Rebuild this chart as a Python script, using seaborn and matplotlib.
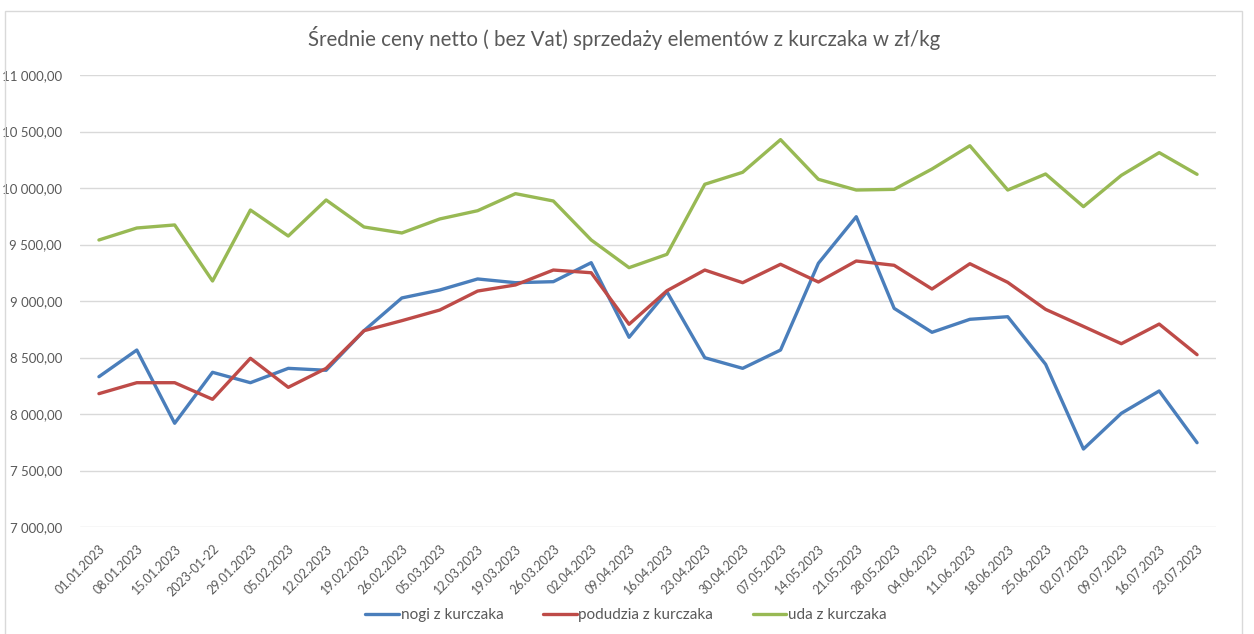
import matplotlib
matplotlib.use("Agg")
import matplotlib.pyplot as plt
import matplotlib.ticker as mticker
from matplotlib.patches import Rectangle
import seaborn as sns
import pandas as pd

dates = ["01.01.2023", "08.01.2023", "15.01.2023", "2023-01-22", "29.01.2023", "05.02.2023",
         "12.02.2023", "19.02.2023", "26.02.2023", "05.03.2023", "12.03.2023", "19.03.2023",
         "26.03.2023", "02.04.2023", "09.04.2023", "16.04.2023", "23.04.2023", "30.04.2023",
         "07.05.2023", "14.05.2023", "21.05.2023", "28.05.2023", "04.06.2023", "11.06.2023",
         "18.06.2023", "25.06.2023", "02.07.2023", "09.07.2023", "16.07.2023", "23.07.2023"]

nogi = [8330, 8566, 7918, 8369, 8277, 8404, 8387, 8737, 9027, 9097, 9195, 9162, 9171, 9339, 8679,
        9082, 8498, 8404, 8566, 9334, 9746, 8935, 8723, 8838, 8861, 8440, 7690, 8006, 8204, 7746]
podudzia = [8180, 8277, 8277, 8130, 8493, 8236, 8404, 8737, 8826, 8920, 9088, 9142, 9274, 9250, 8794,
            9091, 9274, 9162, 9325, 9168, 9354, 9316, 9106, 9330, 9165, 8926, 8775, 8622, 8796, 8525]
uda = [9540, 9646, 9673, 9177, 9805, 9575, 9894, 9655, 9602, 9726, 9799, 9950, 9885, 9540, 9295,
       9413, 10033, 10139, 10428, 10077, 9982, 9988, 10168, 10374, 9982, 10124, 9835, 10112, 10313, 10121]

series_names = ["nogi z kurczaka", "podudzia z kurczaka", "uda z kurczaka"]
title = "Średnie ceny netto ( bez Vat) sprzedaży elementów z kurczaka w zł/kg"

rows = []
for name, vals in zip(series_names, [nogi, podudzia, uda]):
    for i, v in enumerate(vals):
        rows.append({"idx": i, "value": v, "series": name})
df = pd.DataFrame(rows)

sns.set_theme(style="white")
plt.rcParams["font.family"] = ["Lato", "DejaVu Sans"]

text_color = "#595959"
palette = {"nogi z kurczaka": "#4A7EBB", "podudzia z kurczaka": "#BE4B48", "uda z kurczaka": "#98B954"}

fig = plt.figure(figsize=(12.54, 6.34), dpi=100)
ax = fig.add_axes([80 / 1254, 1 - 527 / 634, (1216 - 80) / 1254, (527 - 75) / 634])

sns.lineplot(data=df, x="idx", y="value", hue="series", palette=palette, ax=ax,
             linewidth=2.4, sort=False, legend=True)

ax.set_xlim(-0.5, len(dates) - 0.5)
ax.set_ylim(7000, 11000)
ax.yaxis.set_major_locator(mticker.MultipleLocator(500))
ax.yaxis.set_major_formatter(mticker.FuncFormatter(
    lambda v, p: f"{v:,.2f}".replace(",", " ").replace(".", ",")))
ax.set_xticks(range(len(dates)))
ax.set_xticklabels(dates, rotation=45, ha="right", rotation_mode="anchor")
ax.tick_params(axis="x", length=0, pad=11, labelsize=9, labelcolor=text_color)
ax.tick_params(axis="y", length=0, pad=13, labelsize=9.5, labelcolor=text_color)
ax.grid(axis="y", color="#D9D9D9", linewidth=1)
ax.grid(axis="x", visible=False)
for s in ax.spines.values():
    s.set_visible(False)
ax.set_xlabel("")
ax.set_ylabel("")

handles, labels = ax.get_legend_handles_labels()
ax.get_legend().remove()
fig.legend(handles, labels, loc="center", bbox_to_anchor=(626 / 1254, 1 - 615 / 634), ncol=3,
           frameon=False, fontsize=11, handlelength=2.2, handletextpad=0.1, columnspacing=2.6,
           labelcolor=text_color)

fig.text(624 / 1254, 1 - 38 / 634, title, ha="center", va="center", fontsize=14.8, color=text_color)

fig.patches.append(Rectangle((5 / 1254, -0.01), (1242 - 5) / 1254, 1 - 11 / 634 + 0.01,
                             transform=fig.transFigure, fill=False, edgecolor="#D9D9D9",
                             linewidth=1))

fig.savefig("out.png", dpi=100)
